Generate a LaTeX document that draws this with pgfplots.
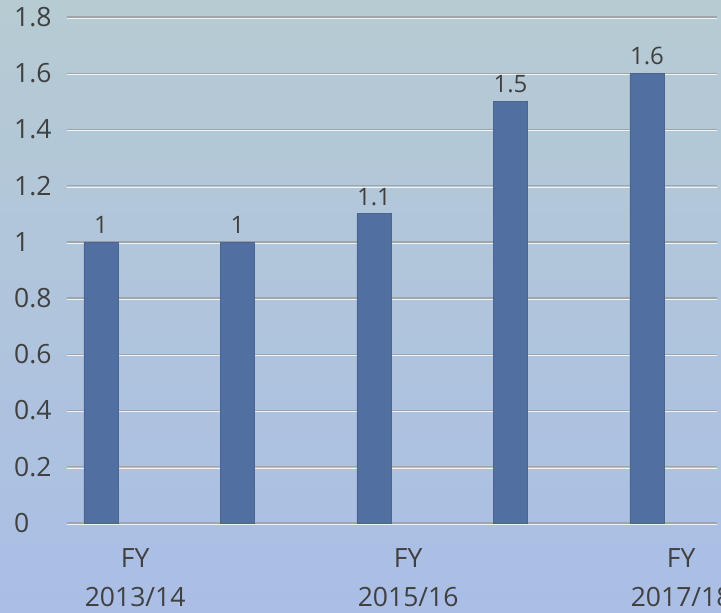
\documentclass[border=0pt]{standalone}
\usepackage{pgfplots}
\pgfplotsset{compat=1.18}
\usepackage{fontspec}
\setmainfont{Open Sans}
\definecolor{bgtop}{RGB}{182,203,210}
\definecolor{bgbot}{RGB}{170,190,230}
\definecolor{barc}{RGB}{82,111,161}
\definecolor{barb}{RGB}{74,100,148}
\definecolor{txt}{RGB}{64,64,64}
\definecolor{gridc}{RGB}{158,166,172}
\begin{document}
\begin{tikzpicture}
\shade[top color=bgtop, bottom color=bgbot] (-67pt,-90pt) rectangle (654pt,523pt);
\begin{axis}[
  at={(0,0)}, anchor=south west,
  scale only axis,
  width=650pt, height=506pt,
  xmin=-0.249, xmax=4.513,
  ymin=0, ymax=1.8,
  ytick={0,0.2,...,1.8},
  xtick={0.25,2.25,4.25},
  xticklabels={FY\\2013/14,FY\\2015/16,FY\\2017/18},
  axis line style={draw=none},
  major tick length=0pt,
  ymajorgrids,
  major grid style={draw=gridc, line width=1.4pt, postaction={draw=white!85!gridc, line width=0.7pt, transform canvas={yshift=-1.2pt}}},
  /pgf/number format/assume math mode=true,
  tick label style={text=txt},
  yticklabel style={anchor=west, inner sep=0pt, xshift=-53pt, font=\fontsize{26.5}{30}\selectfont},
  xticklabel style={align=center, anchor=north, inner sep=0pt, yshift=-25pt, font=\fontsize{26.5}{39}\selectfont},
  nodes near coords,
  every node near coord/.append style={text=txt, inner sep=0pt, yshift=8pt, anchor=south, font=\fontsize{24}{28}\selectfont},
  clip=false,
]
\addplot[ybar, bar width=34pt, fill=barc, draw=barb, line width=0.6pt]
  coordinates {(0,1) (1,1) (2,1.1) (3,1.5) (4,1.6)};
\end{axis}
\pgfresetboundingbox
\path[use as bounding box] (-67pt,-90pt) rectangle (654pt,523pt);
\end{tikzpicture}
\end{document}
